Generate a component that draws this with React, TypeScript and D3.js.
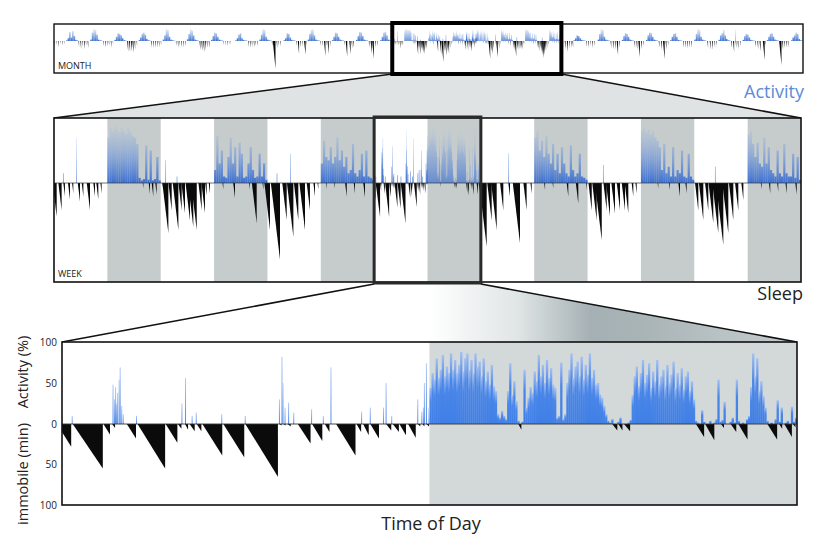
import React from 'react';
import * as d3 from 'd3';

type Bout = [number, number, number]; // start min, end min, immobile minutes at end
type Spike = [number, number]; // minute, activity %

// ---- day panel (4th day of the week) ----
const daySleep: Bout[] = [
  [-10, 18, 28], [21, 80, 55], [81, 94, 13], [98, 104, 5], [127, 145, 18], [148, 202, 55],
  [203, 226, 23], [227, 234, 6], [241, 247, 7], [250, 260, 9], [264, 273, 9], [275, 314, 39],
  [316, 357, 41], [359, 423, 65], [426, 430, 2], [434, 438, 2], [442, 448, 3], [462, 487, 24],
  [490, 510, 21], [515, 524, 10], [537, 575, 39], [577, 586, 10], [590, 601, 14], [604, 621, 18],
  [635, 645, 8], [648, 660, 10], [661, 674, 14], [678, 693, 17], [697, 702, 3], [706, 710, 3],
  [714, 719, 3], [894, 900, 7], [1078, 1088, 8], [1090, 1098, 8], [1101, 1113, 9], [1242, 1258, 16],
  [1260, 1278, 20], [1291, 1297, 5], [1310, 1321, 10], [1325, 1343, 19], [1382, 1401, 19],
  [1405, 1411, 6], [1415, 1430, 16], [1432, 1437, 4],
];

// activity in 4-minute bins from 12:00 to 24:00
const dayActivity: number[] = [
  44, 62, 54, 80, 56, 66, 84, 58, 70, 62,
  86, 66, 78, 62, 72, 88, 64, 80, 86, 66,
  78, 62, 86, 70, 76, 58, 80, 52, 64, 48,
  72, 46, 40,
  12, 8, 16, 10, 6,
  40, 74, 35, 52, 28,
  4, 0, 3,
  66,
  20, 32, 45, 38, 64, 52, 84, 58, 72, 50, 78, 56, 68, 48, 44,
  8, 10, 75, 6, 12,
  50, 66, 86, 56, 70, 76, 58, 82, 54, 72, 60, 86, 56, 66, 48, 50, 36, 32, 22, 12,
  4, 2, 6, 0, 0, 3, 8, 0, 0, 0, 2, 5,
  35, 58, 70, 46, 62, 78, 50, 60, 74, 44, 64, 52, 78, 48, 58, 66, 46, 72, 50, 60, 76, 44, 62, 48, 68, 42, 58, 64, 40, 52, 30,
  4, 2, 0, 17, 3, 0, 0, 4, 0, 2, 6, 54, 3, 5, 27, 0, 0, 3, 8, 2, 54, 4, 0, 2, 0, 6, 10,
  45, 86, 58, 80, 40, 52, 34, 20,
  4, 0, 2, 0, 6, 29, 3, 20, 0, 2, 4, 0, 21, 3, 8,
];

const daySpikes: Spike[] = [
  [19, 10], [99, 48], [102, 30], [104, 45], [106, 25], [108, 38], [111, 54], [113, 69], [116, 22],
  [119, 12], [145, 10], [234, 25], [241, 56], [254, 10], [262, 14], [312, 12], [358, 10], [425, 30],
  [430, 82], [432, 50], [436, 20], [443, 26], [453, 14], [488, 18], [511, 10], [526, 69], [586, 15],
  [603, 20], [629, 20], [634, 50], [645, 10], [696, 30], [704, 15], [707, 20], [709, 50], [713, 74],
  [718, 20],
];

// ---- week panel ----
const weekSleep: Bout[][] = [
  [[-18, 36, 54], [59, 103, 44], [126, 148, 22], [189, 216, 27], [244, 261, 17], [321, 351, 30], [374, 396, 22],
   [442, 486, 44], [531, 553, 22], [571, 598, 27], [626, 643, 17], [1197, 1206, 9], [1278, 1295, 17],
   [1318, 1340, 22], [1367, 1386, 19]],
  [[24, 35, 11], [22, 103, 81], [104, 148, 44], [162, 238, 76], [239, 283, 44], [279, 328, 49], [335, 395, 60],
   [369, 440, 71], [410, 486, 76], [509, 553, 44], [549, 598, 49], [600, 620, 20], [648, 665, 17],
   [834, 845, 11], [978, 1002, 24], [1194, 1205, 11], [1230, 1295, 65], [1374, 1385, 11]],
  [[-41, 35, 76], [46, 170, 124], [200, 260, 60], [263, 350, 87], [357, 417, 60], [431, 507, 76], [530, 574, 44],
   [620, 642, 22], [676, 687, 11], [791, 800, 11], [903, 912, 9], [1048, 1070, 22], [1165, 1182, 17],
   [1293, 1317, 24]],
  daySleep,
  [[-24, 79, 103], [86, 146, 60], [138, 214, 76], [259, 303, 44], [371, 393, 22], [431, 528, 97], [574, 618, 44],
   [669, 686, 17], [855, 866, 11], [968, 977, 9], [1158, 1180, 22], [1282, 1315, 33], [1417, 1428, 11]],
  [[12, 56, 44], [63, 123, 60], [99, 191, 92], [214, 258, 44], [249, 303, 54], [321, 370, 49], [394, 438, 44],
   [461, 505, 44], [501, 550, 49], [595, 617, 22], [646, 663, 17], [945, 954, 9], [1101, 1112, 11],
   [1225, 1247, 22], [1320, 1337, 17]],
  [[10, 54, 44], [62, 122, 60], [145, 189, 44], [192, 257, 65], [243, 324, 81], [292, 392, 100], [378, 459, 81],
   [467, 527, 60], [550, 594, 44], [635, 662, 27], [898, 909, 11], [1008, 1025, 17], [1119, 1133, 14],
   [1230, 1247, 17], [1363, 1382, 19]],
];

// activity in 30-minute bins from 12:00 to 24:00 (day 4 uses the detailed bins)
const weekActivity: number[][] = [
  [70, 85, 80, 88, 82, 78, 86, 80, 75, 84, 78, 72, 70, 60, 8, 4, 6, 58, 5, 50, 4, 6, 40, 4],
  [20, 72, 30, 50, 10, 8, 40, 70, 30, 55, 10, 62, 45, 8, 10, 30, 55, 20, 8, 10, 45, 10, 30, 5],
  [30, 65, 40, 35, 55, 30, 40, 70, 35, 50, 25, 40, 15, 20, 60, 15, 10, 20, 45, 10, 50, 10, 8, 5],
  dayActivity,
  [70, 80, 50, 65, 40, 72, 45, 30, 60, 20, 45, 15, 55, 30, 15, 10, 58, 20, 10, 15, 45, 10, 8, 5],
  [80, 85, 78, 82, 75, 80, 70, 65, 55, 20, 60, 15, 25, 10, 55, 10, 20, 15, 50, 10, 8, 45, 10, 5],
  [75, 80, 60, 40, 62, 30, 25, 70, 30, 55, 20, 15, 10, 50, 15, 10, 60, 15, 10, 10, 45, 8, 40, 5],
];

const weekSpikes: Spike[][] = [
  [[121, 15], [297, 70]],
  [[58, 35], [216, 10]],
  [[125, 15], [305, 45]],
  daySpikes,
  [[370, 46]],
  [[212, 28]],
  [[279, 25]],
];

// ---- month panel: days 1-14 and 22-31 (days 15-21 are the week) ----
const monthSleepA: Bout[][] = [
  [[30, 60, 30], [140, 165, 25], [250, 285, 35], [360, 380, 20], [470, 500, 30], [590, 610, 20]],
  [[20, 55, 35], [130, 175, 45], [240, 275, 35], [340, 390, 50], [450, 480, 30], [560, 600, 40]],
  [[50, 80, 30], [160, 200, 40], [270, 300, 30], [380, 410, 30], [500, 540, 40], [620, 640, 20]],
  [[40, 100, 60], [150, 215, 65], [260, 320, 60], [350, 420, 70], [470, 520, 50], [600, 630, 30]],
  [[30, 70, 40], [140, 180, 40], [260, 300, 40], [370, 410, 40], [480, 515, 35], [600, 625, 25]],
  [[60, 90, 30], [170, 210, 40], [280, 310, 30], [390, 430, 40], [500, 535, 35], [610, 640, 30]],
  [[30, 85, 55], [140, 200, 60], [250, 315, 65], [360, 410, 50], [460, 500, 40], [580, 620, 40]],
  [[20, 45, 25], [120, 145, 25], [230, 260, 30], [340, 360, 20], [450, 470, 20]],
  [[40, 75, 35], [150, 190, 40], [260, 295, 35], [380, 420, 40], [490, 520, 30], [600, 630, 30]],
  [[20, 50, 30], [80, 240, 160], [300, 340, 40], [420, 450, 30], [530, 560, 30]],
  [[30, 60, 30], [130, 205, 75], [260, 300, 40], [390, 420, 30], [500, 595, 80], [620, 645, 25]],
  [[40, 70, 30], [150, 180, 30], [250, 338, 88], [400, 430, 30], [460, 536, 76], [600, 630, 30]],
  [[20, 50, 30], [105, 199, 94], [320, 397, 76], [450, 490, 40], [560, 600, 40]],
  [[40, 80, 40], [150, 225, 75], [240, 345, 105], [420, 460, 40], [540, 570, 30]],
];
const monthSleepB: Bout[][] = [
  [[60, 100, 40], [200, 250, 50], [330, 395, 65], [450, 490, 40], [560, 600, 40], [660, 700, 40]],
  [[40, 75, 35], [150, 190, 40], [270, 300, 30], [380, 420, 40], [500, 530, 30]],
  [[50, 90, 40], [180, 230, 50], [300, 350, 50], [415, 497, 82], [560, 600, 40]],
  [[30, 70, 40], [150, 200, 50], [263, 357, 94], [420, 470, 50], [550, 580, 30]],
  [[40, 80, 40], [170, 220, 50], [291, 397, 106], [450, 500, 50], [580, 610, 30]],
  [[50, 90, 40], [160, 200, 40], [280, 325, 45], [400, 440, 40], [520, 560, 40]],
  [[60, 100, 40], [200, 250, 50], [330, 380, 50], [480, 520, 40], [600, 630, 30]],
  [[40, 80, 40], [150, 215, 65], [300, 340, 40], [420, 470, 50], [560, 590, 30]],
  [[40, 80, 40], [160, 210, 50], [290, 350, 60], [484, 596, 112], [620, 650, 30]],
  [[18, 159, 141], [200, 250, 50], [300, 340, 40], [420, 460, 40], [530, 570, 40]],
];
// activity in 90-minute bins from 12:00 to 24:00
const monthActA: number[][] = [
  [5, 20, 65, 25, 70, 35, 8, 4], [10, 60, 85, 80, 45, 10, 5, 3], [8, 30, 55, 50, 40, 20, 6, 3],
  [6, 25, 50, 60, 45, 15, 5, 3], [10, 40, 85, 80, 30, 10, 5, 3], [12, 50, 85, 75, 40, 10, 5, 3],
  [8, 35, 60, 55, 30, 10, 5, 3], [5, 20, 45, 55, 20, 8, 4, 3], [10, 45, 85, 80, 30, 10, 5, 3],
  [5, 20, 55, 50, 25, 8, 4, 3], [10, 50, 80, 85, 40, 10, 5, 3], [6, 30, 60, 55, 30, 10, 5, 3],
  [8, 35, 65, 60, 35, 10, 5, 3], [6, 30, 60, 65, 40, 10, 5, 3],
];
const monthActB: number[][] = [
  [5, 20, 40, 35, 20, 8, 4, 3], [10, 50, 85, 80, 30, 10, 5, 3], [8, 35, 55, 50, 30, 10, 5, 3],
  [8, 40, 60, 55, 30, 10, 5, 3], [6, 30, 50, 55, 30, 8, 4, 3], [10, 50, 85, 80, 30, 10, 5, 3],
  [8, 40, 55, 80, 40, 15, 5, 3], [8, 35, 50, 45, 25, 8, 4, 3], [6, 30, 50, 55, 30, 10, 5, 3],
  [5, 25, 40, 60, 50, 15, 5, 3],
];
const monthSpikesB: Spike[][] = [[], [], [], [], [], [], [], [[290, 80]], [], []];

const monthSleep = [...monthSleepA, ...weekSleep, ...monthSleepB];
const monthActivity = [...monthActA, ...weekActivity, ...monthActB];
const monthSpikes: Spike[][] = [...monthSleepA.map(() => [] as Spike[]), ...weekSpikes, ...monthSpikesB];

const activityTicks = [100, 50, 0];
const immobileTicks = [50, 100];

const FONT = '"Open Sans", "DejaVu Sans", sans-serif';

type Lin = d3.ScaleLinear<number, number>;

function DayMarks(p: {
  sleep: Bout[]; act: number[]; spikes: Spike[]; offset: number;
  x: Lin; yA: Lin; yS: Lin; fill: string; spikeFill?: string; pad: number; spikeW: number;
}) {
  const base = p.yA(0);
  const binMin = 720 / p.act.length;
  return (
    <g>
      {p.act.map((v, i) => {
        if (v <= 0) return null;
        const xa = p.x(p.offset + 720 + i * binMin);
        const xb = p.x(p.offset + 720 + (i + 1) * binMin);
        return <rect key={'a' + i} x={xa} y={p.yA(v)} width={xb - xa + p.pad} height={base - p.yA(v)} fill={p.fill} />;
      })}
      {p.spikes.map(([m, v], i) => (
        <rect key={'s' + i} x={p.x(p.offset + m)} y={p.yA(v)} width={p.spikeW} height={base - p.yA(v)}
          fill={p.spikeFill || p.fill} />
      ))}
      {p.sleep.map(([s, e, d], i) => (
        <path key={'z' + i}
          d={`M${p.x(p.offset + s)},${base}L${p.x(p.offset + e)},${p.yS(d)}L${p.x(p.offset + e)},${base}Z`}
          fill="#0b0b0b" />
      ))}
    </g>
  );
}

export default function App() {
  const W = 825, H = 537;

  const mX = d3.scaleLinear().domain([0, 31 * 1440]).range([54, 803]);
  const mA = d3.scaleLinear().domain([0, 100]).range([41, 27]);
  const mS = d3.scaleLinear().domain([0, 188]).range([41, 73]);

  const wX = d3.scaleLinear().domain([0, 7 * 1440]).range([54, 801]);
  const wA = d3.scaleLinear().domain([0, 100]).range([183, 118]);
  const wS = d3.scaleLinear().domain([0, 160]).range([183, 282]);

  const dX = d3.scaleLinear().domain([0, 1440]).range([62, 797]);
  const dA = d3.scaleLinear().domain([0, 100]).range([424, 342]);
  const dS = d3.scaleLinear().domain([0, 100]).range([424, 505]);

  const mb0 = mX(14 * 1440), mb1 = mX(21 * 1440);
  const wb0 = wX(3 * 1440), wb1 = wX(4 * 1440);

  return (
    <svg width={W} height={H} style={{ position: 'absolute', left: 0, top: 0 }} fontFamily={FONT}>
      <defs>
        <linearGradient id="gDay" x1={0} y1={1} x2={0} y2={0}>
          <stop offset="0" stopColor="#3f7fe6" />
          <stop offset="0.62" stopColor="#4a86e8" />
          <stop offset="1" stopColor="#a3c0f2" />
        </linearGradient>
        <linearGradient id="gSpike" x1={0} y1={1} x2={0} y2={0}>
          <stop offset="0" stopColor="#4a86e8" />
          <stop offset="1" stopColor="#b3cbf4" />
        </linearGradient>
        <linearGradient id="gWeek" gradientUnits="userSpaceOnUse" x1={0} y1={183} x2={0} y2={118}>
          <stop offset="0" stopColor="#3b6fcf" stopOpacity={1} />
          <stop offset="0.5" stopColor="#6f97dc" stopOpacity={0.5} />
          <stop offset="1" stopColor="#9db8e6" stopOpacity={0} />
        </linearGradient>
        <linearGradient id="gMonth" gradientUnits="userSpaceOnUse" x1={0} y1={41} x2={0} y2={27}>
          <stop offset="0" stopColor="#3b6fcf" stopOpacity={1} />
          <stop offset="0.5" stopColor="#6f97dc" stopOpacity={0.6} />
          <stop offset="1" stopColor="#9db8e6" stopOpacity={0.05} />
        </linearGradient>
        <linearGradient id="gConn" gradientUnits="userSpaceOnUse" x1={62} y1={0} x2={797} y2={0}>
          <stop offset="0.5" stopColor="#ffffff" />
          <stop offset="0.62" stopColor="#e0e5e5" />
          <stop offset="0.72" stopColor="#a5b0b4" />
          <stop offset="0.79" stopColor="#a9b4b7" />
          <stop offset="0.9" stopColor="#b9c2c4" />
          <stop offset="1" stopColor="#c3cacb" />
        </linearGradient>
        <clipPath id="cMonth"><rect x={54} y={24} width={749} height={49} /></clipPath>
        <clipPath id="cWeek"><rect x={54} y={118} width={747} height={164} /></clipPath>
        <clipPath id="cDay"><rect x={62} y={342} width={735} height={163} /></clipPath>
      </defs>
      <rect width={W} height={H} fill="#fff" />

      {/* connectors */}
      <polygon points={`${mb0},74 ${mb1},74 801,118 54,118`} fill="#dfe3e3" />
      <line x1={mb0} y1={74} x2={54} y2={118} stroke="#111" strokeWidth={1.6} />
      <line x1={mb1} y1={74} x2={801} y2={118} stroke="#111" strokeWidth={1.6} />
      <polygon points={`${wb0},284 ${wb1},284 797,342 62,342`} fill="url(#gConn)" />
      <line x1={wb0} y1={284} x2={62} y2={342} stroke="#111" strokeWidth={1.6} />
      <line x1={wb1} y1={284} x2={797} y2={342} stroke="#111" strokeWidth={1.6} />

      {/* month */}
      <rect x={54} y={24} width={749} height={49} fill="#fff" />
      <g clipPath="url(#cMonth)">
        {monthSleep.map((s, i) => (
          <DayMarks key={i} sleep={s} act={monthActivity[i]} spikes={monthSpikes[i]} offset={i * 1440}
            x={mX} yA={mA} yS={mS} fill="url(#gMonth)" pad={0} spikeW={0.5} />
        ))}
      </g>
      <rect x={54} y={24} width={749} height={49} fill="none" stroke="#111" strokeWidth={1.4} />
      <text x={58} y={69} fontSize={9} fill="#222">MONTH</text>
      <rect x={mb0} y={23} width={mb1 - mb0} height={51} fill="none" stroke="#000" strokeWidth={4} />
      <text x={804} y={98} fontSize={18} fill="#5b8bd9" textAnchor="end">Activity</text>

      {/* week */}
      <rect x={54} y={118} width={747} height={164} fill="#fff" />
      {d3.range(7).map(d => (
        <rect key={d} x={wX(d * 1440 + 720)} y={118} width={wX((d + 1) * 1440) - wX(d * 1440 + 720)} height={164} fill="#c6cccc" />
      ))}
      <g clipPath="url(#cWeek)">
        {weekSleep.map((s, i) => (
          <DayMarks key={i} sleep={s} act={weekActivity[i]} spikes={weekSpikes[i]} offset={i * 1440}
            x={wX} yA={wA} yS={wS} fill="url(#gWeek)" pad={0} spikeW={0.6} />
        ))}
        <line x1={54} x2={801} y1={183} y2={183} stroke="#333" strokeWidth={0.7} />
      </g>
      <rect x={54} y={118} width={747} height={164} fill="none" stroke="#111" strokeWidth={1.6} />
      <text x={58} y={277} fontSize={9} fill="#222">WEEK</text>
      <rect x={wb0} y={117} width={wb1 - wb0} height={166} fill="none" stroke="#2a2a2a" strokeWidth={3} />
      <text x={803} y={300} fontSize={18} fill="#222" textAnchor="end">Sleep</text>

      {/* day */}
      <rect x={62} y={342} width={735} height={163} fill="#fff" />
      <rect x={dX(720)} y={342} width={dX(1440) - dX(720)} height={163} fill="#d3d8d8" />
      <g clipPath="url(#cDay)">
        <DayMarks sleep={daySleep} act={dayActivity} spikes={daySpikes} offset={0}
          x={dX} yA={dA} yS={dS} fill="url(#gDay)" spikeFill="url(#gSpike)" pad={0.25} spikeW={1} />
        <line x1={62} x2={797} y1={424} y2={424} stroke="#333" strokeWidth={0.9} />
      </g>
      <rect x={62} y={342} width={735} height={163} fill="none" stroke="#111" strokeWidth={1.6} />

      {activityTicks.map(t => (
        <text key={'a' + t} x={57} y={dA(t)} dy="0.35em" fontSize={10} fill="#222" textAnchor="end">{t}</text>
      ))}
      {immobileTicks.map(t => (
        <text key={'i' + t} x={57} y={dS(t)} dy="0.35em" fontSize={10} fill="#222" textAnchor="end">{t}</text>
      ))}
      <text transform="translate(28,372) rotate(-90)" fontSize={14.5} fill="#222" textAnchor="middle">Activity (%)</text>
      <text transform="translate(28,474) rotate(-90)" fontSize={14.5} fill="#222" textAnchor="middle">immobile (min)</text>
      <text x={431} y={530} fontSize={18} fill="#222" textAnchor="middle">Time of Day</text>
    </svg>
  );
}
